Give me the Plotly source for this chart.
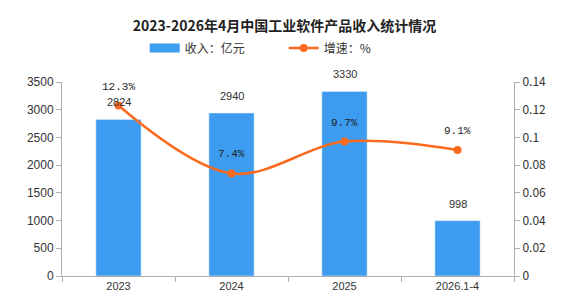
import plotly.graph_objects as go

categories = ["2023", "2024", "2025", "2026.1-4"]
revenue = [2824, 2940, 3330, 998]
growth = [0.123, 0.074, 0.097, 0.091]
growth_labels = ["12.3%", "7.4%", "9.7%", "9.1%"]

BAR = "#3d9bf0"
LINE = "#fb6a1e"
AX = "#b0b0b0"
FONT = "Noto Sans CJK SC"

fig = go.Figure()
fig.add_trace(go.Bar(
    x=categories, y=revenue, name="收入：亿元", marker_color=BAR,
    width=0.4, showlegend=False,
))
# legend entry with wide swatch for the bars
fig.add_trace(go.Scatter(
    x=[categories[0]], y=[None], name="收入：亿元", mode="lines",
    line=dict(color=BAR, width=9),
))
fig.add_trace(go.Scatter(
    x=categories, y=growth, name="增速：%", yaxis="y2", mode="lines+markers",
    line=dict(color=LINE, width=2.5, shape="spline", smoothing=1.0),
    marker=dict(color=LINE, size=8),
    cliponaxis=False,
))

annotations = []
for i, v in enumerate(revenue):
    annotations.append(dict(x=i, y=v, xref="x", yref="y", text=str(v),
                            showarrow=False, yanchor="bottom", yshift=9,
                            font=dict(size=11, color="#333", family="Liberation Sans")))
for i, (v, t) in enumerate(zip(growth, growth_labels)):
    annotations.append(dict(x=i, y=v, xref="x", yref="y2", text=t,
                            showarrow=False, yanchor="bottom", yshift=11,
                            font=dict(size=11, color="#222", family="Liberation Mono")))

fig.update_layout(
    width=569, height=304,
    margin=dict(l=62, r=55, t=82, b=28),
    paper_bgcolor="white", plot_bgcolor="white",
    font=dict(family=FONT, size=12, color="#333"),
    title=dict(text="<b>2023-2026年4月中国工业软件产品收入统计情况</b>",
               x=0.5, xanchor="center", y=0.915, yanchor="middle",
               font=dict(size=14, color="#222", family=FONT)),
    legend=dict(orientation="h", x=0.183, xanchor="left", y=1.175, yanchor="middle",
                font=dict(size=12, color="#333", family=FONT),
                itemwidth=30, tracegroupgap=0, entrywidth=94),
    annotations=annotations,
    xaxis=dict(type="category", categoryorder="array", categoryarray=categories,
               range=[-0.5, 3.5],
               showline=True, linecolor=AX, linewidth=1, ticks="outside",
               tickcolor=AX, ticklen=5, tickson="boundaries",
               tickfont=dict(size=11, family="Liberation Sans", color="#333")),
    yaxis=dict(range=[0, 3500], dtick=500, showline=True, linecolor=AX,
               ticks="outside", tickcolor=AX, ticklen=5, showgrid=False,
               zeroline=False,
               tickfont=dict(size=12, family="Liberation Sans", color="#333")),
    yaxis2=dict(range=[0, 0.14], overlaying="y", side="right",
                showline=True, linecolor=AX, ticks="outside", tickcolor=AX,
                ticklen=5, showgrid=False, zeroline=False,
                tickvals=[0, 0.02, 0.04, 0.06, 0.08, 0.1, 0.12, 0.14],
                ticktext=["0", "0.02", "0.04", "0.06", "0.08", "0.1", "0.12", "0.14"],
                tickfont=dict(size=12, family=FONT, color="#333")),
)

fig.write_html("out.html")
